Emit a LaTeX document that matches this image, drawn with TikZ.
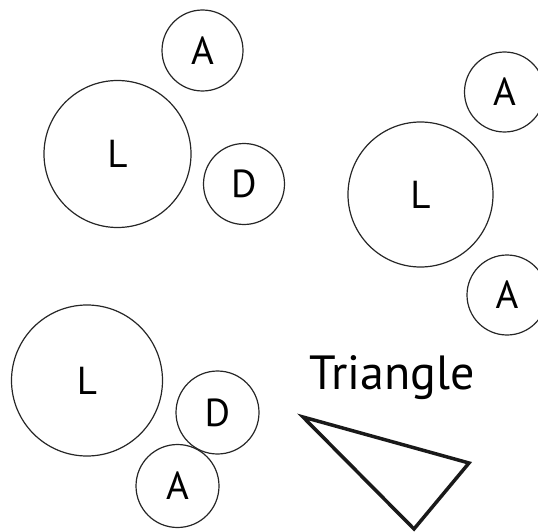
\documentclass[tikz,border=0pt]{standalone}
\usepackage{fontspec}
\setmainfont{PT Sans}
\begin{document}
\begin{tikzpicture}[x=1pt,y=-1pt,
  ball/.style={circle,draw=black!85,line width=1.2pt,inner sep=0pt,minimum size=#1,font=\fontsize{39}{39}\selectfont},
  tri/.style={draw=black!90,line width=3.5pt,line join=miter}]
\useasboundingbox (0,0) rectangle (538,532);
% top-left group
\node[ball=81pt] (a1) at (202.5,50.5) {A};
\node[ball=147pt] (l1) at (117.5,154) {L};
\node[ball=81pt] (d1) at (244,184) {D};
% right group
\node[ball=80pt] (a2) at (504.5,92) {A};
\node[ball=145pt] (l2) at (420.5,194.5) {L};
\node[ball=80pt] (a3) at (507,295) {A};
% bottom-left group
\node[ball=151pt] (l3) at (87,380.5) {L};
\node[ball=83pt] (d3) at (217.5,412.5) {D};
\node[ball=83pt] (a4) at (177.5,486) {A};
% triangle
\node[font=\fontsize{48}{48}\selectfont,anchor=base] (tl) at (392,389) {Triangle};
\coordinate (t1) at (303,417);
\coordinate (t2) at (469,463);
\coordinate (t3) at (414,529);
\draw[tri] (t1) -- (t2) -- (t3) -- cycle;
\end{tikzpicture}
\end{document}
